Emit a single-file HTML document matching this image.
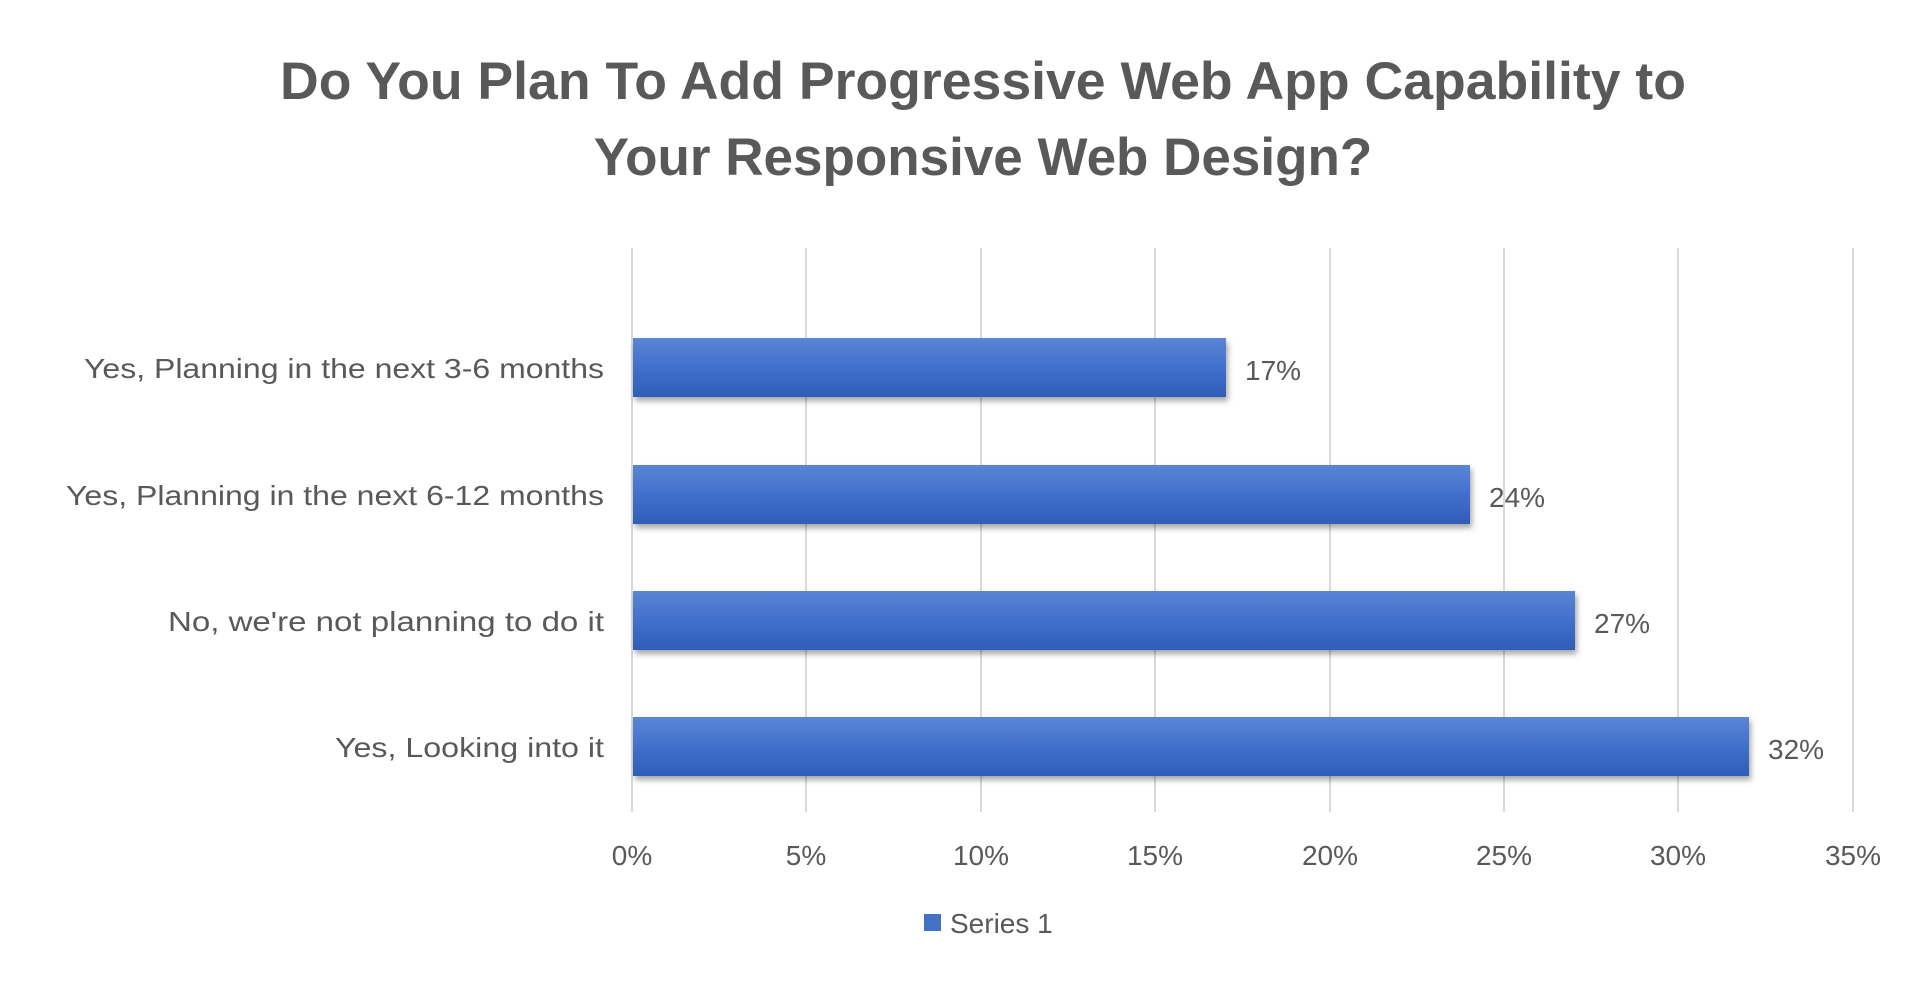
<!DOCTYPE html>
<html><head><style>
body{margin:0;background:#fff;}
svg{display:block}
text{font-family:"Liberation Sans",sans-serif;fill:#595959}
</style></head><body>
<svg width="1932" height="992" xmlns="http://www.w3.org/2000/svg">
<defs>
<linearGradient id="g" x1="0" y1="0" x2="0" y2="1">
<stop offset="0" stop-color="#5b85d4"/><stop offset="0.5" stop-color="#4170cc"/><stop offset="1" stop-color="#2f5db7"/>
</linearGradient>
<filter id="s" x="-5%" y="-20%" width="110%" height="150%"><feDropShadow dx="2" dy="4" stdDeviation="3" flood-color="#000" flood-opacity="0.35"/></filter>
</defs>
<text x="983" y="99" font-size="53" font-weight="bold" text-anchor="middle" textLength="1406" lengthAdjust="spacingAndGlyphs">Do You Plan To Add Progressive Web App Capability to</text>
<text x="983" y="175" font-size="53" font-weight="bold" text-anchor="middle">Your Responsive Web Design?</text>
<g stroke="#d9d9d9" stroke-width="2">
<line x1="632" y1="248" x2="632" y2="812"/><line x1="806" y1="248" x2="806" y2="812"/><line x1="981" y1="248" x2="981" y2="812"/><line x1="1155" y1="248" x2="1155" y2="812"/><line x1="1330" y1="248" x2="1330" y2="812"/><line x1="1504" y1="248" x2="1504" y2="812"/><line x1="1678" y1="248" x2="1678" y2="812"/><line x1="1853" y1="248" x2="1853" y2="812"/>
</g>
<g fill="url(#g)" filter="url(#s)">
<rect x="633" y="338" width="593" height="59"/>
<rect x="633" y="465" width="837" height="59"/>
<rect x="633" y="591" width="942" height="59"/>
<rect x="633" y="717" width="1116" height="59"/>
</g>
<g font-size="28" text-anchor="end">
<text x="604" y="378" textLength="520" lengthAdjust="spacingAndGlyphs">Yes, Planning in the next 3-6 months</text>
<text x="604" y="505" textLength="538" lengthAdjust="spacingAndGlyphs">Yes, Planning in the next 6-12 months</text>
<text x="604" y="631" textLength="436" lengthAdjust="spacingAndGlyphs">No, we're not planning to do it</text>
<text x="604" y="757" textLength="269" lengthAdjust="spacingAndGlyphs">Yes, Looking into it</text>
</g>
<g font-size="28">
<text x="1245" y="380">17%</text>
<text x="1489" y="507">24%</text>
<text x="1594" y="633">27%</text>
<text x="1768" y="759">32%</text>
</g>
<g font-size="28" text-anchor="middle">
<text x="632" y="865">0%</text><text x="806" y="865">5%</text><text x="981" y="865">10%</text><text x="1155" y="865">15%</text><text x="1330" y="865">20%</text><text x="1504" y="865">25%</text><text x="1678" y="865">30%</text><text x="1853" y="865">35%</text>
</g>
<rect x="924" y="914" width="17" height="17" fill="#4472c4"/>
<text x="950" y="933" font-size="28">Series 1</text>
</svg>
</body></html>
